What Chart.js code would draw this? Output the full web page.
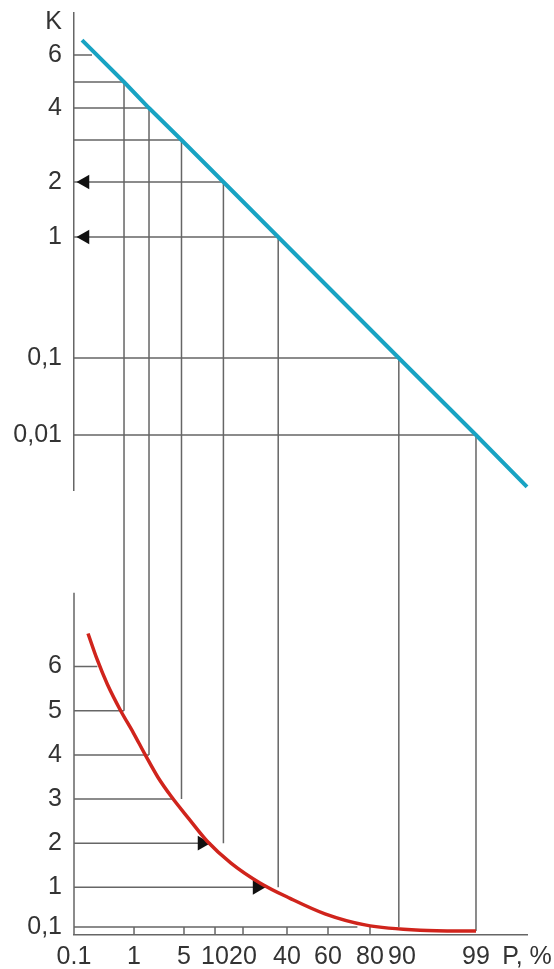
<!DOCTYPE html>
<html>
<head>
<meta charset="utf-8">
<script src="https://cdn.jsdelivr.net/npm/chart.js@4.4.1/dist/chart.umd.min.js"></script>
<style>
  html, body { margin: 0; padding: 0; background: #fff; }
  #wrap { width: 554px; height: 969px; }
</style>
</head>
<body>
<div id="wrap"><canvas id="chart" width="554" height="969"></canvas></div>
<script>
// probability axis, P %
const pTicks = [0.1, 1, 5, 10, 20, 40, 60, 80, 90, 99, 99.9];
const pLabels = ['0.1', '1', '5', '10', '20', '40', '60', '80', '90', '99', 'P, %'];

// K axis: upper panel (linearised) and lower panel (plain)
const kTopTicks = [7.2, 6, 5, 4, 3, 2, 1, 0.1, 0.01];
const kTopLabels = ['K', '6', '', '4', '', '2', '1', '0,1', '0,01'];
const kBotTicks = [6, 5, 4, 3, 2, 1, 0.1];
const kBotLabels = ['6', '5', '4', '3', '2', '1', '0,1'];

// upper panel: straight line
const lineP = [0.22, 0.85, 2.2, 4.8, 13, 36, 89, 99, 99.9];
const lineK = [6.55, 5, 4, 3, 2, 1, 0.1, 0.01, 0.0015];

// lower panel: curve
const curveP = [0.31, 0.45, 0.6, 0.8, 0.99, 1.9, 2.9, 4, 5.8, 8.7, 15.7, 27.7, 41.5, 58.5, 77.6, 92.2, 99];
const curveK = [6.75, 6.15, 5.6, 5, 4.5, 4, 3.5, 3.05, 2.55, 2.05, 1.55, 1.1, 0.75, 0.4, 0.15, 0.03, 0.01];

// construction lines
const levelTopK = [6, 5, 4, 3, 2, 1, 0.1, 0.01];
const levelTopP = [0.37, 0.85, 2.2, 4.8, 13, 36, 89, 99];
const levelBotK = [6, 5, 4, 3, 2, 1, 0.1];
const levelBotP = [0.45, 0.85, 2.2, 4.2, 9.3, 30.5, 74];
const dropP = [0.85, 2.2, 4.8, 13, 36, 89, 99];
const dropK = [5, 4, 3, 2, 1, 0.1, 0.01];

// arrows
const arrowTopP = [0.265, 0.265];
const arrowTopK = [2, 1];
const arrowBotP = [7.9, 26.4];
const arrowBotK = [2, 1];

// axis extents
const pMin = 0.1;
const kTopMin = 0.001;
const kBotMin = -0.08, kBotMax = 10, kBotAxisTop = 7.67;

// calibration of the schematic axes: value -> fraction along the axis
const paperTables = {
  probability: [[0.1, 0], [1, 0.1325], [5, 0.2428], [10, 0.3113], [20, 0.3731], [40, 0.4702],
                [60, 0.5607], [80, 0.6534], [90, 0.7241], [99, 0.8874], [99.9, 1]],
  linearisedK: [[0.001, 0], [0.01, 0.1153], [0.1, 0.2767], [1, 0.5304], [2, 0.6457], [3, 0.7338],
                [4, 0.8008], [5, 0.8553], [6, 0.9119], [7, 0.9686], [7.5, 1]]
};

class PaperScale extends Chart.Scale {
  static id = 'paper';
  static defaults = {};
  table() { return paperTables[this.options.paper]; }
  determineDataLimits() {
    const t = this.table();
    this.min = t[0][0];
    this.max = t[t.length - 1][0];
  }
  buildTicks() { return []; }
  getLabelForValue(v) { return String(v); }
  toDecimal(v) {
    const t = this.table();
    if (v <= t[0][0]) return t[0][1];
    for (let i = 1; i < t.length; i++) {
      if (v <= t[i][0]) {
        const [a, fa] = t[i - 1], [b, fb] = t[i];
        return fa + (v - a) / (b - a) * (fb - fa);
      }
    }
    return t[t.length - 1][1];
  }
  getPixelForValue(v) {
    if (v === null || v === undefined || !isFinite(v)) return NaN;
    return this.getPixelForDecimal(this.toDecimal(v));
  }
  getPixelForTick(i) { return this.getPixelForValue(this.ticks[i].value); }
  getValueForPixel(px) {
    const d = this.getDecimalForPixel(px);
    const t = this.table();
    for (let i = 1; i < t.length; i++) {
      if (d <= t[i][1]) {
        const [a, fa] = t[i - 1], [b, fb] = t[i];
        return a + (d - fa) / (fb - fa) * (b - a);
      }
    }
    return t[t.length - 1][0];
  }
}
Chart.register(PaperScale);

const gap = { x: null, y: null };
const pts = (xs, ys) => xs.map((x, i) => ({ x, y: ys[i] }));
const segs = list => list.flatMap(([a, b]) => [{ x: a[0], y: a[1] }, { x: b[0], y: b[1] }, gap]);

const topLevels = segs(levelTopK.map((k, i) => [[pMin, k], [levelTopP[i], k]]));
const topDrops = segs(dropP.map((p, i) => [[p, dropK[i]], [p, kTopMin]]));
const botLevels = segs(levelBotK.map((k, i) => [[pMin, k], [levelBotP[i], k]]));
const botDrops = segs(dropP.map((p, i) => [[p, kBotMax], [p, dropK[i]]]));
const botAxis = segs([[[pMin, kBotAxisTop], [pMin, kBotMin]]]);
const pMarks = segs(pTicks.slice(1, 8).map(p => [[p, kBotMin], [p, 0.1]]));

const GRID = '#666';
const guide = (data, yAxisID) => ({
  data, yAxisID, showLine: true, pointRadius: 0, borderColor: GRID, borderWidth: 1.5,
  fill: false, clip: false, spanGaps: false
});
const arrow = (data, yAxisID, rotation) => ({
  data, yAxisID, showLine: false, pointStyle: 'triangle', rotation, pointRadius: 8.5,
  backgroundColor: '#111', borderWidth: 0, clip: false
});

Chart.defaults.font.family = '"Liberation Sans", Arial, sans-serif';
Chart.defaults.font.size = 25;
Chart.defaults.color = '#333';

new Chart(document.getElementById('chart'), {
  type: 'scatter',
  data: {
    datasets: [
      { data: pts(lineP, lineK), yAxisID: 'yTop', showLine: true, pointRadius: 0,
        borderColor: '#18a3c3', borderWidth: 4, clip: false },
      { data: pts(curveP, curveK), yAxisID: 'yBot', showLine: true, pointRadius: 0,
        borderColor: '#d0241c', borderWidth: 3.5, cubicInterpolationMode: 'monotone', clip: false },
      arrow(pts(arrowTopP, arrowTopK), 'yTop', -90),
      arrow(pts(arrowBotP, arrowBotK), 'yBot', 90),
      guide(topLevels, 'yTop'),
      guide(topDrops, 'yTop'),
      guide(botLevels, 'yBot'),
      guide(botDrops, 'yBot'),
      guide(botAxis, 'yBot'),
      guide(pMarks, 'yBot')
    ]
  },
  options: {
    responsive: false,
    animation: false,
    events: [],
    layout: { padding: { top: 13, right: 27, bottom: 0, left: 0 } },
    plugins: { legend: { display: false }, tooltip: { enabled: false } },
    scales: {
      x: {
        type: 'paper', paper: 'probability', position: 'bottom',
        grid: { display: false, drawTicks: false },
        border: { display: true, color: GRID, width: 1.5 },
        ticks: { autoSkip: false, maxRotation: 0, padding: 7, callback: (v, i) => pLabels[i] },
        afterBuildTicks: s => { s.ticks = pTicks.map(value => ({ value })); },
        afterFit: s => { s.height = 34; s.paddingLeft = 0; s.paddingRight = 0; }
      },
      yBot: {
        type: 'linear', position: 'left', stack: 'k', stackWeight: 445,
        min: kBotMin, max: kBotMax,
        grid: { display: false, drawTicks: false },
        border: { display: false },
        ticks: { autoSkip: false, padding: 12, callback: (v, i) => kBotLabels[i] },
        afterBuildTicks: s => { s.ticks = kBotTicks.map(value => ({ value })); },
        afterFit: s => { s.width = 74; s.paddingTop = 0; s.paddingBottom = 0; }
      },
      yTop: {
        type: 'paper', paper: 'linearisedK', position: 'left', stack: 'k', stackWeight: 477,
        grid: { display: false, drawTicks: false },
        border: { display: true, color: GRID, width: 1.5 },
        ticks: { autoSkip: false, padding: 12, callback: (v, i) => kTopLabels[i] },
        afterBuildTicks: s => { s.ticks = kTopTicks.map(value => ({ value })); },
        afterFit: s => { s.width = 74; s.paddingTop = 0; s.paddingBottom = 0; }
      }
    }
  }
});
</script>
</body>
</html>
